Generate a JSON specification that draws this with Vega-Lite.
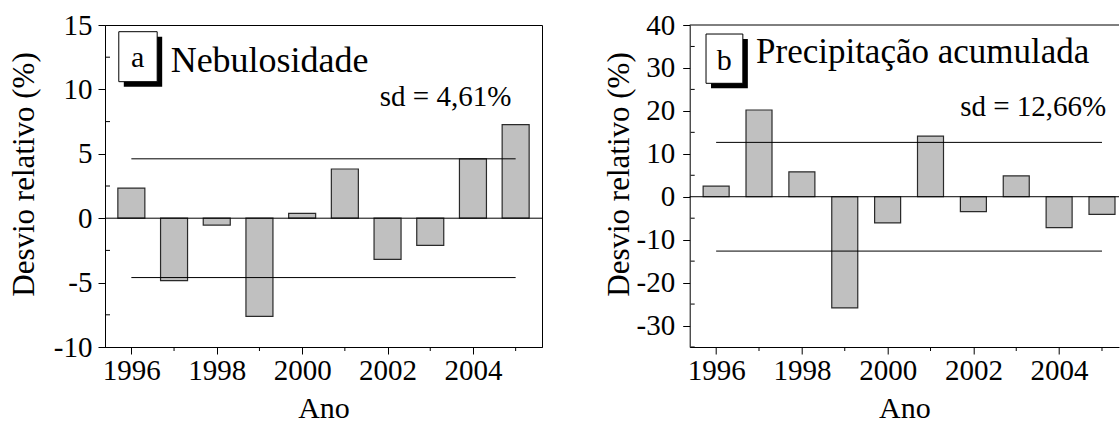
{
  "$schema": "https://vega.github.io/schema/vega-lite/v6.json",
  "background": "white",
  "padding": {"left": 7, "top": 10, "right": 0, "bottom": 0},
  "bounds": "flush",
  "spacing": 147.7,
  "config": {
    "locale": {"number": {"decimal": ".", "thousands": ",", "grouping": [3], "currency": ["$", ""], "minus": "-"}},
    "font": "Liberation Serif",
    "view": {"stroke": "black", "strokeWidth": 1},
    "axis": {
      "labelFont": "Liberation Serif", "titleFont": "Liberation Serif",
      "labelFontSize": 29, "titleFontWeight": "normal",
      "labelColor": "black", "titleColor": "black", "domainColor": "black", "tickColor": "black",
      "grid": false, "tickSize": 7, "labelOverlap": false, "labelFlush": false
    },
    "axisX": {"labelPadding": 2, "titlePadding": 8, "titleFontSize": 30},
    "axisY": {"titleFontSize": 31, "titleY": 149}
  },
  "datasets": {
    "neb": [
      {"ano": 1996, "desvio": 2.34}, {"ano": 1997, "desvio": -4.85}, {"ano": 1998, "desvio": -0.53},
      {"ano": 1999, "desvio": -7.62}, {"ano": 2000, "desvio": 0.37}, {"ano": 2001, "desvio": 3.82},
      {"ano": 2002, "desvio": -3.2}, {"ano": 2003, "desvio": -2.11}, {"ano": 2004, "desvio": 4.6},
      {"ano": 2005, "desvio": 7.26}
    ],
    "prec": [
      {"ano": 1996, "desvio": 2.45}, {"ano": 1997, "desvio": 20.2}, {"ano": 1998, "desvio": 5.8},
      {"ano": 1999, "desvio": -25.9}, {"ano": 2000, "desvio": -6.1}, {"ano": 2001, "desvio": 14.1},
      {"ano": 2002, "desvio": -3.45}, {"ano": 2003, "desvio": 4.85}, {"ano": 2004, "desvio": -7.2},
      {"ano": 2005, "desvio": -4.1}
    ],
    "sdneb": [{"v": 4.61}, {"v": -4.61}],
    "sdprec": [{"v": 12.66}, {"v": -12.66}],
    "minorYears": [{"t": 1997}, {"t": 1999}, {"t": 2001}, {"t": 2003}, {"t": 2005}],
    "minorNeb": [{"t": -7.5}, {"t": -2.5}, {"t": 2.5}, {"t": 7.5}, {"t": 12.5}],
    "minorPrec": [{"t": -35}, {"t": -25}, {"t": -15}, {"t": -5}, {"t": 5}, {"t": 15}, {"t": 25}, {"t": 35}],
    "one": [{}]
  },
  "hconcat": [
    {
      "width": 437, "height": 322,
      "layer": [
        {
          "data": {"name": "neb"},
          "mark": {"type": "bar", "width": 27, "fill": "#c0c0c0", "stroke": "#2a2a2a", "strokeWidth": 1.2},
          "encoding": {
            "x": {"field": "ano", "type": "quantitative",
              "scale": {"domain": [1995.5, 2005.5], "nice": false, "zero": false},
              "axis": {"title": "Ano", "values": [1996, 1998, 2000, 2002, 2004], "format": "d"}},
            "y": {"field": "desvio", "type": "quantitative",
              "scale": {"domain": [-10, 15], "nice": false},
              "axis": {"title": "Desvio relativo (%)", "values": [-10, -5, 0, 5, 10, 15], "format": "d",
                "labelPadding": 6, "titlePadding": 13}}
          }
        },
        {
          "data": {"name": "minorYears"},
          "mark": {"type": "rule", "color": "black", "strokeWidth": 1, "y2Offset": 4},
          "encoding": {"x": {"field": "t", "type": "quantitative"}, "y": {"datum": -10}, "y2": {"datum": -10}}
        },
        {
          "data": {"name": "minorNeb"},
          "mark": {"type": "rule", "color": "black", "strokeWidth": 1, "x2Offset": -4},
          "encoding": {"y": {"field": "t", "type": "quantitative"}, "x": {"datum": 1995.5}, "x2": {"datum": 1995.5}}
        },
        {"data": {"name": "one"}, "mark": {"type": "rule", "color": "black", "strokeWidth": 1}, "encoding": {"y": {"datum": 0}}},
        {
          "data": {"name": "sdneb"},
          "mark": {"type": "rule", "color": "black", "strokeWidth": 1},
          "encoding": {"x": {"datum": 1996}, "x2": {"datum": 2005}, "y": {"field": "v", "type": "quantitative"}}
        },
        {
          "data": {"name": "one"},
          "mark": {"type": "rect", "fill": "black", "xOffset": 5, "x2Offset": 5, "yOffset": 5, "y2Offset": 5},
          "encoding": {"x": {"datum": 1995.706}, "x2": {"datum": 1996.605}, "y": {"datum": 14.48}, "y2": {"datum": 10.6}}
        },
        {
          "data": {"name": "one"},
          "mark": {"type": "rect", "fill": "white", "stroke": "black", "strokeWidth": 1},
          "encoding": {"x": {"datum": 1995.706}, "x2": {"datum": 1996.605}, "y": {"datum": 14.48}, "y2": {"datum": 10.6}}
        },
        {
          "data": {"name": "one"},
          "mark": {"type": "text", "text": "a", "fontSize": 30, "align": "center", "baseline": "alphabetic", "color": "black"},
          "encoding": {"x": {"datum": 1996.15}, "y": {"datum": 11.76}}
        },
        {
          "data": {"name": "one"},
          "mark": {"type": "text", "text": "Nebulosidade", "fontSize": 36, "align": "left", "baseline": "alphabetic", "color": "black"},
          "encoding": {"x": {"datum": 1996.92}, "y": {"datum": 11.37}}
        },
        {
          "data": {"name": "one"},
          "mark": {"type": "text", "text": "sd = 4,61%", "fontSize": 29, "align": "right", "baseline": "alphabetic", "color": "black"},
          "encoding": {"x": {"datum": 2004.9}, "y": {"datum": 8.71}}
        }
      ]
    },
    {
      "width": 429.3, "height": 322,
      "view": {"stroke": null},
      "layer": [
        {
          "data": {"name": "prec"},
          "mark": {"type": "bar", "width": 26, "fill": "#c0c0c0", "stroke": "#2a2a2a", "strokeWidth": 1.2, "clip": true},
          "encoding": {
            "x": {"field": "ano", "type": "quantitative",
              "scale": {"domain": [1995.5, 2005.28], "nice": false, "zero": false},
              "axis": {"title": "Ano", "values": [1996, 1998, 2000, 2002, 2004], "format": "d"}},
            "y": {"field": "desvio", "type": "quantitative",
              "scale": {"domain": [-35, 40], "nice": false},
              "axis": {"title": "Desvio relativo (%)", "values": [-30, -20, -10, 0, 10, 20, 30, 40], "format": "d",
                "labelPadding": 8, "titlePadding": 1}}
          }
        },
        {
          "data": {"name": "minorYears"},
          "mark": {"type": "rule", "color": "black", "strokeWidth": 1, "y2Offset": 4},
          "encoding": {"x": {"field": "t", "type": "quantitative"}, "y": {"datum": -35}, "y2": {"datum": -35}}
        },
        {
          "data": {"name": "minorPrec"},
          "mark": {"type": "rule", "color": "black", "strokeWidth": 1, "x2Offset": -4},
          "encoding": {"y": {"field": "t", "type": "quantitative"}, "x": {"datum": 1995.5}, "x2": {"datum": 1995.5}}
        },
        {"data": {"name": "one"}, "mark": {"type": "rule", "color": "black", "strokeWidth": 1}, "encoding": {"y": {"datum": 0}}},
        {"data": {"name": "one"}, "mark": {"type": "rule", "color": "black", "strokeWidth": 1}, "encoding": {"y": {"datum": 40}}},
        {
          "data": {"name": "sdprec"},
          "mark": {"type": "rule", "color": "black", "strokeWidth": 1},
          "encoding": {"x": {"datum": 1996}, "x2": {"datum": 2005}, "y": {"field": "v", "type": "quantitative"}}
        },
        {
          "data": {"name": "one"},
          "mark": {"type": "rect", "fill": "black", "xOffset": 5, "x2Offset": 5, "yOffset": 5, "y2Offset": 5},
          "encoding": {"x": {"datum": 1995.764}, "x2": {"datum": 1996.623}, "y": {"datum": 37.9}, "y2": {"datum": 26.42}}
        },
        {
          "data": {"name": "one"},
          "mark": {"type": "rect", "fill": "white", "stroke": "black", "strokeWidth": 1},
          "encoding": {"x": {"datum": 1995.764}, "x2": {"datum": 1996.623}, "y": {"datum": 37.9}, "y2": {"datum": 26.42}}
        },
        {
          "data": {"name": "one"},
          "mark": {"type": "text", "text": "b", "fontSize": 30, "align": "center", "baseline": "alphabetic", "color": "black"},
          "encoding": {"x": {"datum": 1996.19}, "y": {"datum": 29.5}}
        },
        {
          "data": {"name": "one"},
          "mark": {"type": "text", "text": "Precipitação acumulada", "fontSize": 35, "align": "left", "baseline": "alphabetic", "color": "black"},
          "encoding": {"x": {"datum": 1996.93}, "y": {"datum": 31.08}}
        },
        {
          "data": {"name": "one"},
          "mark": {"type": "text", "text": "sd = 12,66%", "fontSize": 29, "align": "right", "baseline": "alphabetic", "color": "black"},
          "encoding": {"x": {"datum": 2005.1}, "y": {"datum": 18.8}}
        }
      ]
    }
  ]
}
